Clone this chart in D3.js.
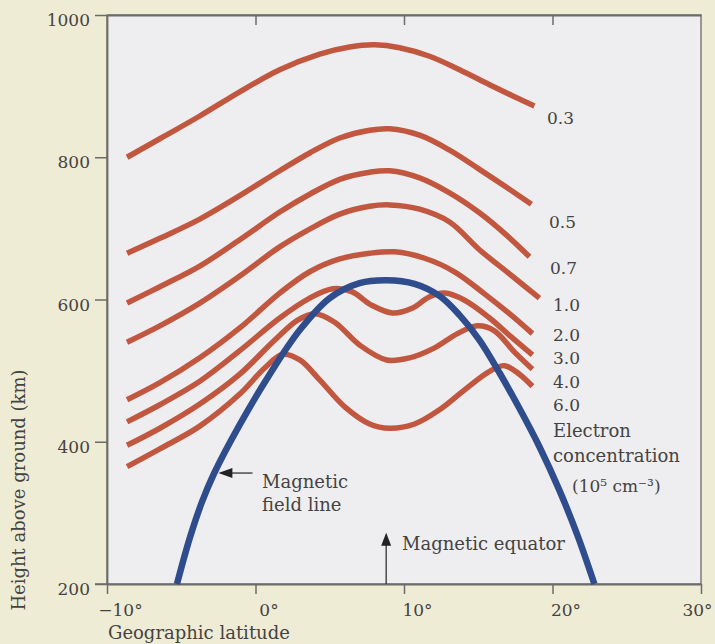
<!DOCTYPE html>
<html><head><meta charset="utf-8">
<script src="https://cdn.jsdelivr.net/npm/d3@7"></script>
<style>
html,body{margin:0;padding:0;background:#efecd6;}
svg{display:block;}
text{font-family:"DejaVu Serif",serif;fill:#45433f;}
</style></head><body>
<svg id="chart" width="715" height="644"></svg>
<script>
// ---------------- DATA ----------------
const xTicks = [-10, 0, 10, 20, 30];
const xTickLabels = ["−10°", "0°", "10°", "20°", "30°"];
const yTicks = [200, 400, 600, 800, 1000];
const yTickLabels = ["200", "400", "600", "800", "1000"];
const concentrationLabels = ["0.3", "0.5", "0.7", "1.0", "2.0", "3.0", "4.0", "6.0"];

// electron concentration contours: geographic latitude (deg) and height (km)
const lat_0_3 = [-8.65, -6.44, -3.75, -1.06, 1.63, 4.32, 6.34, 8.02, 9.70, 11.72, 13.74, 15.76, 17.44, 18.78];
const h_0_3   = [800, 826, 858, 892, 923, 945, 955, 958, 954, 942, 923, 902, 885, 872];
const lat_0_5 = [-8.65, -6.44, -3.75, -1.06, 1.63, 3.65, 5.67, 7.69, 9.03, 11.05, 13.07, 15.08, 17.10, 18.58];
const h_0_5   = [665, 686, 713, 746, 781, 806, 827, 838, 840, 831, 810, 783, 755, 734];
const lat_0_7 = [-8.65, -6.44, -3.75, -1.06, 1.63, 3.65, 5.67, 7.69, 9.03, 11.05, 13.07, 15.08, 16.77, 18.45];
const h_0_7   = [595, 618, 647, 684, 723, 748, 769, 779, 781, 771, 750, 722, 693, 660];
const lat_1_0 = [-8.65, -6.44, -3.75, -1.06, 1.63, 3.65, 5.67, 7.69, 9.03, 11.05, 13.07, 15.08, 17.10, 19.12];
const h_1_0   = [540, 563, 595, 633, 674, 699, 720, 731, 733, 727, 709, 670, 636, 602];
const lat_2_0 = [-8.65, -6.44, -3.75, -1.06, 1.63, 3.65, 5.67, 7.69, 9.37, 11.39, 13.40, 15.42, 17.10, 18.65];
const h_2_0   = [459, 483, 518, 560, 609, 639, 657, 665, 667, 658, 639, 608, 580, 552];
const lat_3_0 = [-8.65, -6.44, -3.75, -1.06, 1.63, 3.65, 5.20, 6.48, 7.82, 9.23, 10.58, 11.72, 12.73, 14.08, 15.76, 17.24, 18.65];
const h_3_0   = [428, 452, 485, 528, 574, 602, 615, 611, 592, 581, 588, 604, 609, 599, 574, 547, 522];
const lat_4_0 = [-8.65, -6.44, -3.75, -1.06, 1.30, 2.84, 3.99, 5.33, 7.01, 8.83, 10.38, 12.06, 13.60, 14.95, 16.09, 17.44, 18.65];
const h_4_0   = [395, 419, 453, 495, 543, 571, 580, 568, 536, 515, 518, 532, 552, 563, 556, 526, 502];
const lat_6_0 = [-8.65, -6.44, -3.75, -1.06, 0.63, 1.84, 2.98, 4.32, 6.01, 7.69, 9.03, 10.71, 12.39, 14.08, 15.76, 16.77, 17.77, 18.65];
const h_6_0   = [365, 390, 422, 467, 504, 523, 515, 487, 449, 425, 419, 425, 445, 473, 499, 507, 495, 478];

// magnetic field line
const fieldLineLat    = [-5.29, -4.42, -3.61, -2.80, -1.06, 0.96, 2.98, 5.00, 7.01, 8.83, 10.71, 12.39, 13.74, 15.08, 16.43, 17.77, 19.12, 20.46, 21.67, 22.82];
const fieldLineHeight = [200, 265, 315, 355, 424, 495, 557, 602, 623, 627, 622, 605, 578, 543, 497, 447, 393, 332, 269, 200];
const magneticEquatorLat = 8.8;

// ---------------- LAYOUT ----------------
const W = 715, H = 644;
const svg = d3.select("#chart");
const x = d3.scaleLinear().domain([-10, 30]).range([107, 701]);
const y = d3.scaleLinear().domain([200, 1000]).range([584, 15]);
const RED = "#c2573f", BLUE = "#2f4d8d", AXIS = "#6d6b68";

svg.append("rect").attr("width", W).attr("height", H).attr("fill", "#efecd6");
svg.append("rect")
  .attr("x", x(-10)).attr("y", y(1000))
  .attr("width", x(30) - x(-10)).attr("height", y(200) - y(1000))
  .attr("fill", "#eeeef1").attr("stroke", AXIS).attr("stroke-width", 1.3);

// axes
const yAxis = d3.axisLeft(y).tickValues(yTicks).tickSize(12).tickSizeOuter(0).tickPadding(5)
  .tickFormat((d, i) => yTickLabels[i]);
const gy = svg.append("g").attr("transform", `translate(${x(-10)},0)`).call(yAxis);
const xAxis = d3.axisBottom(x).tickValues(xTicks).tickSize(10).tickSizeOuter(0).tickPadding(10)
  .tickFormat((d, i) => xTickLabels[i]);
const gx = svg.append("g").attr("transform", `translate(0,${y(200)})`).call(xAxis);
const xTop = d3.axisTop(x).tickValues(xTicks.slice(1, 4)).tickSize(-10).tickSizeOuter(0).tickFormat("");
const gt = svg.append("g").attr("transform", `translate(0,${y(1000)})`).call(xTop);

[gx, gy, gt].forEach(g => {
  g.select(".domain").attr("stroke", AXIS).attr("stroke-width", 1.8);
  g.selectAll(".tick line").attr("stroke", AXIS).attr("stroke-width", 1.5);
  g.selectAll(".tick text").attr("fill", "#45433f")
    .style("font-family", '"DejaVu Serif", serif').style("font-size", "17px");
});
gy.selectAll(".tick text").attr("dy", "0.62em");
gx.selectAll(".tick text").attr("dx", (d, i) => i === xTicks.length - 1 ? -4 : 13);
svg.append("line").attr("x1", x(-10) - 12).attr("x2", x(-10)).attr("y1", y(200)).attr("y2", y(200))
  .attr("stroke", AXIS).attr("stroke-width", 1.5);

// axis titles
svg.append("text").attr("transform", `translate(25,490) rotate(-90)`)
  .attr("text-anchor", "middle").style("font-size", "18px").text("Height above ground (km)");
svg.append("text").attr("x", 108).attr("y", 639).style("font-size", "18px").text("Geographic latitude");

// contours
const contours = [
  [lat_0_3, h_0_3], [lat_0_5, h_0_5], [lat_0_7, h_0_7], [lat_1_0, h_1_0],
  [lat_2_0, h_2_0], [lat_3_0, h_3_0], [lat_4_0, h_4_0], [lat_6_0, h_6_0]
].map(([la, hh], i) => ({ label: concentrationLabels[i], pts: la.map((v, j) => [v, hh[j]]) }));

const line = d3.line().x(d => x(d[0])).y(d => y(d[1])).curve(d3.curveCatmullRom.alpha(0.5));

svg.append("g").selectAll("path").data(contours).join("path")
  .attr("d", d => line(d.pts)).attr("fill", "none")
  .attr("stroke", RED).attr("stroke-width", 5.5).attr("stroke-linecap", "butt");

// field line
svg.append("path").attr("d", line(fieldLineLat.map((v, i) => [v, fieldLineHeight[i]])))
  .attr("fill", "none").attr("stroke", BLUE).attr("stroke-width", 6.5);

// contour labels
const labelPos = [[547,124],[549,228],[550,274],[553,311],[553,341],[553,364],[553,388],[553,411]];
svg.append("g").selectAll("text").data(contours).join("text")
  .attr("x", (d, i) => labelPos[i][0]).attr("y", (d, i) => labelPos[i][1])
  .style("font-size", "17px").text(d => d.label);
svg.append("text").attr("x", 553).attr("y", 437).style("font-size", "18px").text("Electron");
svg.append("text").attr("x", 553).attr("y", 462).style("font-size", "18px").text("concentration");
svg.append("text").attr("x", 572).attr("y", 492).style("font-size", "17px").text("(10⁵ cm⁻³)");

// annotation: magnetic field line
const ax0 = x(-2.5), ay0 = y(356);
svg.append("line").attr("x1", ax0 + 10).attr("x2", x(-0.2)).attr("y1", ay0).attr("y2", ay0)
  .attr("stroke", "#333").attr("stroke-width", 1.3);
svg.append("path").attr("d", `M${ax0},${ay0} L${ax0 + 14},${ay0 - 5} L${ax0 + 14},${ay0 + 5} Z`).attr("fill", "#222");
svg.append("text").attr("x", 262).attr("y", 488).style("font-size", "18px").text("Magnetic");
svg.append("text").attr("x", 262).attr("y", 511).style("font-size", "18px").text("field line");

// annotation: magnetic equator
const ex = x(magneticEquatorLat), eTop = y(272);
svg.append("line").attr("x1", ex).attr("x2", ex).attr("y1", y(200)).attr("y2", eTop + 10)
  .attr("stroke", "#333").attr("stroke-width", 1.3);
svg.append("path").attr("d", `M${ex},${eTop} L${ex - 5},${eTop + 13} L${ex + 5},${eTop + 13} Z`).attr("fill", "#222");
svg.append("text").attr("x", 402).attr("y", 550).style("font-size", "18px").text("Magnetic equator");
</script>
</body></html>
